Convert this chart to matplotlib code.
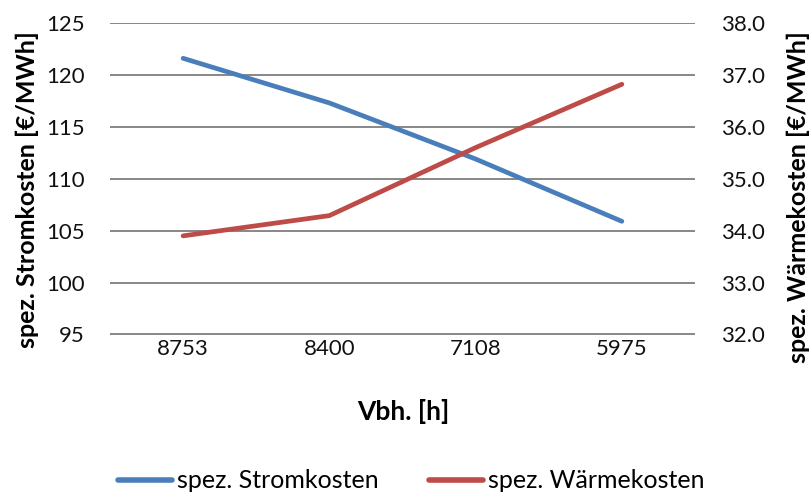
import matplotlib.pyplot as plt

plt.rcParams['font.family'] = ['Lato', 'DejaVu Sans']

vbh = ['8753', '8400', '7108', '5975']
strom = [121.6, 117.3, 111.9, 105.9]
waerme = [33.90, 34.29, 35.60, 36.82]

blue = '#4A7EBB'
red = '#BE4B48'
grid = '#878787'

fig = plt.figure(figsize=(8.09, 4.93), dpi=100)
ax = fig.add_axes([110 / 809, 1 - 334.5 / 493, 585 / 809, 311.5 / 493])
ax2 = ax.twinx()

x = range(len(vbh))
ax.plot(x, strom, color=blue, lw=3.4, solid_capstyle='round', label='spez. Stromkosten', zorder=3)
ax2.plot(x, waerme, color=red, lw=3.4, solid_capstyle='round', label='spez. Wärmekosten', zorder=3)

ax.set_xlim(-0.5, 3.5)
ax.set_ylim(95, 125)
ax.set_yticks(range(95, 126, 5))
ax2.set_ylim(32, 38)
ax2.set_yticks(range(32, 39))
ax2.set_yticklabels([f'{v:.1f}' for v in range(32, 39)])
ax.set_xticks(list(x))
ax.set_xticklabels(vbh)

for v in range(95, 126, 5):
    ax.axhline(v, color=grid, lw=1.4, zorder=1)

for a in (ax, ax2):
    for s in a.spines.values():
        s.set_visible(False)
    a.tick_params(length=0, labelsize=16, colors='#111111')
ax.tick_params(axis='y', pad=18)
ax2.tick_params(axis='y', pad=19)
ax.tick_params(axis='x', pad=3)

fig.text(27 / 809, 1 - 190 / 493, 'spez. Stromkosten [€/MWh]', rotation=90,
         ha='center', va='center', fontsize=18, fontweight='bold')
fig.text(798 / 809, 1 - 197 / 493, 'spez. Wärmekosten [€/MWh]', rotation=90,
         ha='center', va='center', fontsize=18, fontweight='bold')
fig.text(403 / 809, 1 - 411 / 493, 'Vbh. [h]', ha='center', va='center',
         fontsize=19, fontweight='bold')

h1, l1 = ax.get_legend_handles_labels()
h2, l2 = ax2.get_legend_handles_labels()
leg = fig.legend(h1 + h2, l1 + l2, loc='center', bbox_to_anchor=(411 / 809, 1 - 481 / 493),
                 ncol=2, frameon=False, fontsize=18, handlelength=2.16, handletextpad=0.2,
                 columnspacing=2.0, borderpad=0)
for line in leg.get_lines():
    line.set_linewidth(4)

fig.savefig('out.png', dpi=100)
